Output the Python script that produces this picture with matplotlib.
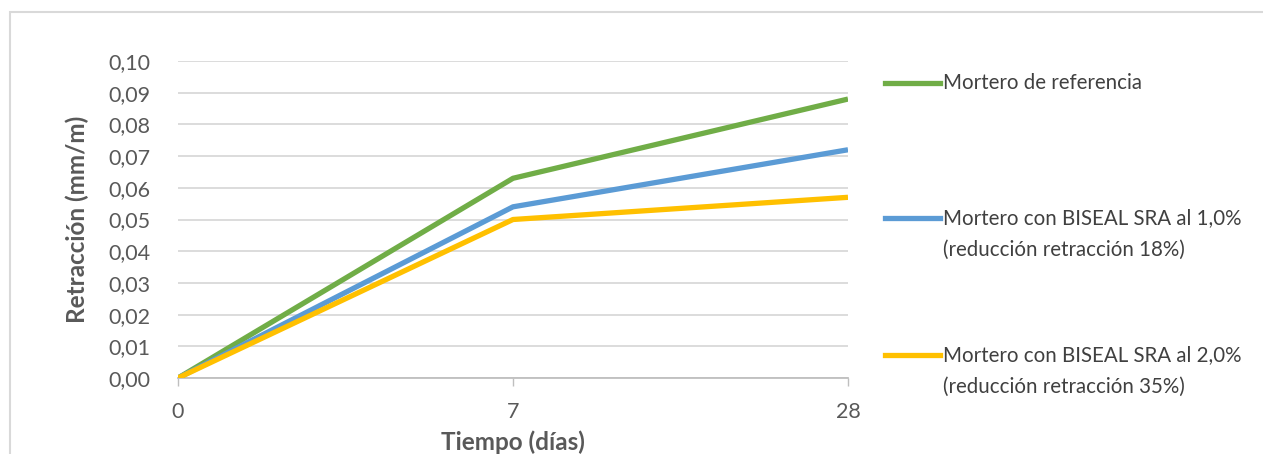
import matplotlib.pyplot as plt
from matplotlib.lines import Line2D
from matplotlib.patches import Rectangle
from matplotlib.ticker import FuncFormatter

# data
dias = ["0", "7", "28"]
referencia = [0.0, 0.063, 0.088]
biseal_1 = [0.0, 0.054, 0.072]
biseal_2 = [0.0, 0.050, 0.057]

series = [
    (referencia, "#70AD47", ["Mortero de referencia"]),
    (biseal_1, "#5B9BD5", ["Mortero con BISEAL SRA al 1,0%", "(reducción retracción 18%)"]),
    (biseal_2, "#FFC000", ["Mortero con BISEAL SRA al 2,0%", "(reducción retracción 35%)"]),
]

plt.rcParams['font.family'] = ['Lato', 'DejaVu Sans']
W, H = 1263, 454
fig = plt.figure(figsize=(W / 100, H / 100), dpi=100)
ax = fig.add_axes([178 / W, 1 - 378 / H, (848 - 178) / W, (378 - 61) / H])

x = list(range(len(dias)))
for vals, color, _ in series:
    ax.plot(x, vals, color=color, lw=3.8, solid_capstyle='butt', zorder=3)

ax.set_xlim(0, len(dias) - 1)
ax.set_ylim(0, 0.10)
ax.set_yticks([i / 100 for i in range(11)])
ax.yaxis.set_major_formatter(FuncFormatter(lambda v, p: f"{v:.2f}".replace(".", ",")))
ax.set_xticks(x)
ax.set_xticklabels(dias)
ax.grid(axis='y', color='#D9D9D9', lw=1.3)
ax.set_axisbelow(True)
for s in ['top', 'right', 'left']:
    ax.spines[s].set_visible(False)
ax.spines['bottom'].set_color('#BFBFBF')
ax.spines['bottom'].set_linewidth(1.3)
ax.tick_params(axis='y', length=0, pad=20, labelsize=15.5, labelcolor='#595959')
ax.tick_params(axis='x', length=6, width=1, color='#BFBFBF', pad=11, labelsize=15.5, labelcolor='#595959')
ax.set_ylabel("Retracción (mm/m)", fontsize=17.5, fontweight='bold', color='#595959', labelpad=14)
ax.set_xlabel("Tiempo (días)", fontsize=17.5, fontweight='bold', color='#595959', labelpad=6)

# legend drawn by hand so the handle lines up with the first text line
legend_y = [83, 218, 355]
for (vals, color, lines), ly in zip(series, legend_y):
    fy = 1 - ly / H
    fig.add_artist(Line2D([885 / W, 940 / W], [fy, fy], color=color, lw=3.8))
    for k, txt in enumerate(lines):
        fig.text(943 / W, 1 - (ly + 32 * k) / H, txt, fontsize=14.8, color='#404040',
                 va='center', ha='left')

# chart frame
fig.add_artist(Rectangle((10 / W, -0.02), 1.0, 1 - 12 / H + 0.02, transform=fig.transFigure,
                         fill=False, edgecolor='#D9D9D9', lw=1.5))

fig.savefig("out.png", dpi=100)
